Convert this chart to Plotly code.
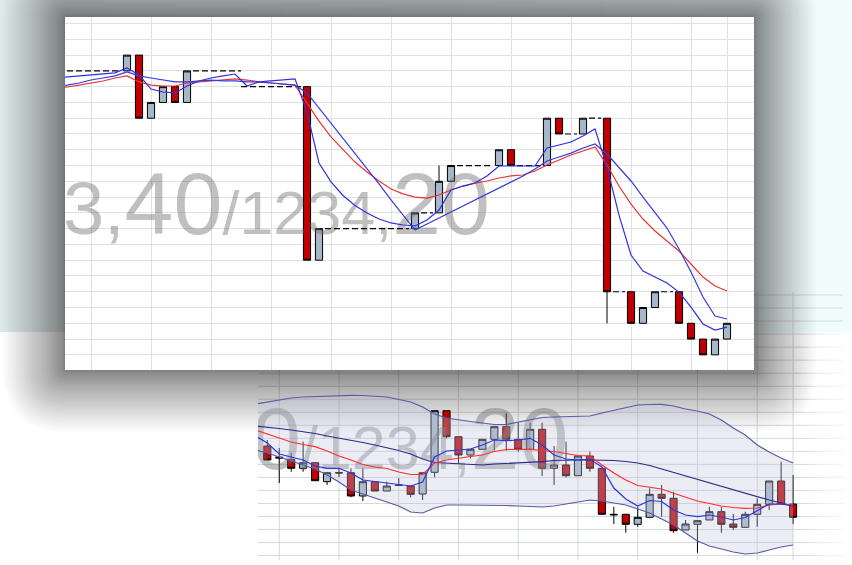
import plotly.graph_objects as go

W, H = 852, 565

# ---------------- main panel data ----------------
main_slots = [0, 1, 2, 3, 4, 5, 15, 16, 24, 26, 27, 31, 32, 35, 36, 38, 40, 42, 43, 44, 46, 47, 48, 49, 50]
main_open = [39, 40, 36, 37, 38, 37, 38, 27, 29, 30, 32, 33, 34, 33, 36, 35, 36, 25, 23, 24, 25, 23, 22, 21, 22]
main_close = [40, 36, 37, 38, 37, 39, 27, 29, 30, 32, 33, 34, 33, 36, 35, 36, 25, 23, 24, 25, 23, 22, 21, 22, 23]
main_high = [40, 40, 37, 38, 38, 39, 38, 29, 30, 33, 33, 34, 34, 36, 36, 36, 36, 25, 24, 25, 25, 23, 22, 22, 23]
main_low = [39, 36, 36, 37, 37, 37, 27, 27, 29, 30, 32, 33, 33, 33, 35, 35, 23, 23, 23, 24, 23, 22, 21, 21, 22]

gap_slots = [-6, -5, -4, -3, -2, -1, 6, 7, 8, 9, 10, 11, 12, 13, 14, 17, 18, 19, 20, 21, 22, 23,
             25, 28, 29, 30, 33, 34, 37, 39, 41, 45]
gap_levels = [39, 39, 39, 39, 39, 39, 39, 39, 39, 39, 38, 38, 38, 38, 38, 29, 29, 29, 29, 29, 29, 29,
              30, 33, 33, 33, 33, 33, 35, 36, 25, 25]

ma_slots = list(range(-6, 51))
ma_red = [37.91, 37.98, 38.10, 38.23, 38.36, 38.55,
          38.68, 38.30, 38.10, 38.04, 38.04, 38.23, 38.30, 38.36, 38.42, 38.49, 38.42, 38.30, 38.23, 38.17, 38.10,
          36.96, 35.82, 34.81, 33.98, 33.22, 32.59, 32.02, 31.51, 31.20, 31.00,
          30.94, 31.13, 31.45, 31.70, 31.89, 32.02, 32.21, 32.34, 32.40, 32.65,
          33.03, 33.35, 33.67, 33.92, 34.18, 33.03, 31.70, 30.56, 29.61, 28.85,
          28.22, 27.58, 26.76, 25.93, 25.36, 25.05]
ma_fast = [38.55, 38.61, 38.68, 38.74, 38.80, 38.87,
           39.18, 38.74, 37.85, 37.66, 37.60, 38.04, 38.36, 38.55, 38.68, 38.80, 38.04, 38.30, 38.36, 38.42, 38.49,
           36.39, 33.16, 31.96, 31.10, 30.47, 29.99, 29.61, 29.36, 29.23, 29.17,
           29.55, 30.18, 31.45, 31.70, 31.89, 32.34, 32.97, 32.97, 32.97, 32.97,
           34.11, 34.30, 34.49, 34.87, 35.32, 32.91, 29.86, 27.33, 26.31, 25.93,
           25.55, 24.98, 24.03, 22.96, 22.57, 22.76]
ma_slow = [38.04, 38.10, 38.23, 38.42, 38.55, 38.68,
           38.93, 38.68, 38.55, 38.42, 38.30, 38.30, 38.36, 38.42, 38.36, 38.36, 38.30, 38.30, 38.23, 38.17, 38.10,
           37.60, 36.65, 35.70, 34.68, 33.73, 32.78, 31.83, 30.82, 29.86, 28.91,
           29.29, 29.67, 30.05, 30.44, 30.82, 31.20, 31.58, 31.96, 32.34, 32.78,
           33.29, 33.54, 33.79, 34.11, 34.37, 33.73, 32.91, 32.02, 31.00, 30.05,
           29.04, 27.71, 26.25, 24.67, 23.46, 23.27]

# ---------------- lower panel data ----------------
bot_slots = list(range(0, 45))
bot_open = [77, 71.5, 70.35, 65.85, 68.65, 59.15, 63.65, 63.65, 52, 59.15, 54.5, 57.5, 57, 53, 63.85,
            94.65, 81.65, 72.5, 75.35, 80.35, 86.65, 80.35, 75.35, 85.35, 65.85, 67.5, 62.15, 72, 65.85,
            42.85, 42.85, 37.85, 41.35, 52.85, 50.85, 35, 37.85, 40, 44.15, 38, 36.35, 42.85, 47.85, 59.5, 48]
bot_close = [70, 71, 65.85, 68.65, 59.65, 63.65, 63.5, 52, 59.15, 54.5, 57, 57.25, 52.85, 63.65, 94.65,
             81.65, 72.5, 75.35, 80.35, 86.65, 80.35, 75.35, 85.35, 65.85, 67.5, 62.15, 72, 65.85, 42.85,
             42.6, 37.85, 41.35, 52.85, 50.85, 34.65, 38, 39.65, 44.15, 37.85, 36.35, 42.85, 47.85, 59.5, 48, 41.35]
bot_high = [80, 76, 73.65, 79.15, 68.65, 63.65, 66, 65.85, 65.85, 59.15, 59.15, 60.85, 57, 63.65, 94.65,
            94.65, 81.65, 75.35, 80.35, 86.65, 93.35, 88.65, 88.65, 88.65, 77, 79.15, 72, 74.15, 65.85,
            46.65, 42.85, 46.65, 55.85, 57.5, 54.15, 40, 39.65, 46.65, 46.65, 43, 44.15, 50.85, 59.5, 69.15, 62.5]
bot_low = [70, 58.5, 64.15, 64.15, 59.65, 57.5, 61.5, 51.35, 49.5, 54.5, 54.5, 57, 51.35, 50, 61.35,
           80.85, 68, 70.85, 75.35, 74.65, 74.65, 74.15, 75.35, 62, 57.5, 61.35, 62.15, 64.15, 42.85,
           38, 33.65, 36.65, 41.35, 41.65, 33.65, 35, 23.65, 40, 33.65, 35, 36.35, 36.65, 45, 48, 38]

band_slots = list(range(-1, 45))
band_upper = [98, 99, 100.25, 101, 101.5, 101.75, 102, 102.25, 102.35, 102.25, 101.75,
              101.5, 100.25, 99, 96.5, 93, 91, 90, 89.25, 88.5, 87.75,
              87.75, 89, 90.25, 91.25, 91.5, 91.65, 91.75, 92, 93.5, 94.75,
              96, 97.5, 97.75, 97.85, 97, 95.5, 94.5, 93, 90, 86,
              82.5, 77.5, 74, 71, 68.5]
band_lower = [75, 73.5, 71.5, 69.5, 67.5, 65.5, 62.5, 59, 55, 53, 51,
              49, 47, 44, 43.5, 46, 47.5, 47.5, 47.5, 47.5, 47.5,
              47.25, 47, 46.75, 46.5, 47, 48, 49, 50, 49.5, 48.5,
              47.5, 45.5, 43.5, 40.5, 37.5, 33.5, 29.5, 27, 25.5, 24,
              23, 23.5, 25, 26.5, 27.5]
band_mid = [87, 86.5, 85.75, 85, 84.25, 83.25, 82, 81, 80, 78.75, 77.5,
            76.25, 74.75, 73, 70.5, 68.75, 68.35, 68, 67.75, 67.5, 68,
            68.25, 68.5, 68.75, 69.15, 69.75, 70, 70, 70, 70, 69.75,
            69.25, 68.5, 67.25, 65.5, 64, 62.25, 60.5, 58.5, 56.75, 55,
            53.25, 51.5, 50, 48.5, 47]
bot_red = [85, 83, 80.75, 79, 77.75, 76.65, 74.5, 72, 70, 67.75, 66.5,
           65.75, 64, 62.75, 62.75, 68.5, 70, 71, 71.75, 72.5, 74.25,
           75.25, 75.35, 75.35, 74.75, 74.25, 73.25, 72.25, 72, 67.5, 63.5,
           60, 57.25, 56.25, 55.5, 53.35, 51.25, 49.5, 48.25, 47, 46.25,
           45.85, 46, 47.5, 48, 47.5]
bot_fast = [82, 78.5, 73, 71.5, 70, 67, 65.85, 65.85, 63.5, 60, 59.25,
            58.75, 57.75, 57, 59, 71.5, 74.5, 74.85, 75.5, 77.5, 80,
            79.65, 80, 80.85, 77.5, 72.5, 70.5, 70, 70.35, 66.5, 56,
            50.5, 47, 49.75, 49.25, 45, 42.5, 41.65, 42.5, 41.5, 40,
            41.25, 44.5, 48, 48, 47]

watermark = ('<span style="font-size:74px">1233,</span><span style="font-size:88px">40</span>'
             '/1234,<span style="font-size:88px">20</span>')

# ---------------- helpers (layout positions) ----------------
def px(x):
    return x / W


def py(y):
    return 1 - y / H


def rrect_path(x0, y0, x1, y1, r):
    return (f"M {px(x0 + r)},{py(y0)} L {px(x1 - r)},{py(y0)} Q {px(x1)},{py(y0)} {px(x1)},{py(y0 + r)} "
            f"L {px(x1)},{py(y1 - r)} Q {px(x1)},{py(y1)} {px(x1 - r)},{py(y1)} "
            f"L {px(x0 + r)},{py(y1)} Q {px(x0)},{py(y1)} {px(x0)},{py(y1 - r)} "
            f"L {px(x0)},{py(y0 + r)} Q {px(x0)},{py(y0)} {px(x0 + r)},{py(y0)} Z")


RED = '#c00000'
GRAY = '#a7b7ca'
WM_COLOR = 'rgba(105,105,105,0.42)'

fig = go.Figure()

# main watermark
fig.add_trace(go.Scatter(x=[30.25], y=[29.6], mode='text', text=[watermark], textposition='middle left',
                         textfont=dict(family='Liberation Sans, Arial', size=61, color=WM_COLOR),
                         hoverinfo='skip', cliponaxis=True, xaxis='x', yaxis='y'))

# dashed flat segments
dx, dy = [], []
prev = None
for s, L in zip(gap_slots, gap_levels):
    if prev is not None and s == prev[0] + 1 and L == prev[1]:
        dx[-1] = s + 0.5
    else:
        if dx:
            dx.append(None)
            dy.append(None)
        dx += [s - 0.5, s + 0.5]
        dy += [L, L]
    prev = (s, L)
fig.add_trace(go.Scatter(x=dx, y=dy, mode='lines', line=dict(color='black', width=1.2, dash='6px,3px'),
                         hoverinfo='skip', xaxis='x', yaxis='y'))

fig.add_trace(go.Candlestick(x=main_slots, open=main_open, high=main_high, low=main_low, close=main_close,
                             increasing=dict(fillcolor=GRAY, line=dict(color='black', width=1)),
                             decreasing=dict(fillcolor=RED, line=dict(color='black', width=1)),
                             whiskerwidth=0, hoverinfo='skip', xaxis='x', yaxis='y'))

fig.add_trace(go.Scatter(x=ma_slots, y=ma_red, mode='lines', line=dict(color='#e83535', width=1.2),
                         hoverinfo='skip', xaxis='x', yaxis='y'))
fig.add_trace(go.Scatter(x=ma_slots, y=ma_slow, mode='lines', line=dict(color='#3a3ad8', width=1.2),
                         hoverinfo='skip', xaxis='x', yaxis='y'))
fig.add_trace(go.Scatter(x=ma_slots, y=ma_fast, mode='lines', line=dict(color='#3030e0', width=1.2),
                         hoverinfo='skip', xaxis='x', yaxis='y'))

# lower panel
fig.add_trace(go.Scatter(x=[25.2], y=[73], mode='text', text=[watermark], textposition='middle left',
                         textfont=dict(family='Liberation Sans, Arial', size=61, color=WM_COLOR),
                         hoverinfo='skip', cliponaxis=True, xaxis='x2', yaxis='y2'))
fig.add_trace(go.Scatter(x=band_slots, y=band_upper, mode='lines', line=dict(color='#5a5aa6', width=1.2),
                         hoverinfo='skip', xaxis='x2', yaxis='y2'))
fig.add_trace(go.Scatter(x=band_slots, y=band_lower, mode='lines', line=dict(color='#5a5aa6', width=1.2),
                         fill='tonexty', fillcolor='rgba(195,195,222,0.32)',
                         hoverinfo='skip', xaxis='x2', yaxis='y2'))
fig.add_trace(go.Candlestick(x=bot_slots, open=bot_open, high=bot_high, low=bot_low, close=bot_close,
                             increasing=dict(fillcolor=GRAY, line=dict(color='black', width=1)),
                             decreasing=dict(fillcolor=RED, line=dict(color='black', width=1)),
                             whiskerwidth=0, hoverinfo='skip', xaxis='x2', yaxis='y2'))
fig.add_trace(go.Scatter(x=band_slots, y=band_mid, mode='lines', line=dict(color='#2a2a8c', width=1.2),
                         hoverinfo='skip', xaxis='x2', yaxis='y2'))
fig.add_trace(go.Scatter(x=band_slots, y=bot_red, mode='lines', line=dict(color='#ff2e2e', width=1.2),
                         hoverinfo='skip', xaxis='x2', yaxis='y2'))
fig.add_trace(go.Scatter(x=band_slots, y=bot_fast, mode='lines', line=dict(color='#2838e0', width=1.2),
                         hoverinfo='skip', xaxis='x2', yaxis='y2'))

# ---------------- decorative shapes ----------------
shapes = []
NS = 24
for i in range(NS):
    t = i / (NS - 1)
    r = int(222 + 19 * t)
    g = int(234 + 19 * t)
    shapes.append(dict(type='rect', xref='paper', yref='paper', x0=px(i * W / NS), x1=px((i + 1) * W / NS + 1),
                       y0=py(332), y1=py(0), fillcolor=f'rgb({r},{g},{g})', line=dict(width=0), layer='below'))

# lower panel grid
for m in range(21):
    yv = 152.5 - 6.515 * m
    shapes.append(dict(type='line', xref='paper', yref='y2', x0=px(258), x1=px(843), y0=yv, y1=yv,
                       line=dict(color='#d3d8d8', width=1), layer='below'))
for k in [1, 6, 11, 16, 21, 26, 31, 36, 41, 44]:
    shapes.append(dict(type='line', xref='x2', yref='paper', x0=k, x1=k, y0=py(560), y1=py(292),
                       line=dict(color='#d3d8d8', width=1), layer='below'))
# right fade of lower panel
for i in range(8):
    shapes.append(dict(type='rect', xref='paper', yref='paper', x0=px(806 + 5 * i), x1=px(852),
                       y0=py(565), y1=py(332), fillcolor='rgba(255,255,255,0.18)', line=dict(width=0),
                       layer='below'))

# shadow of main panel
x0m, y0m, x1m, y1m = 65, 17, 754, 370
NSH = 44
for i in range(NSH + 1):
    d = 62 * (i / NSH) ** 1.8
    shapes.append(dict(type='path', xref='paper', yref='paper',
                       path=rrect_path(x0m - d, y0m - d, x1m + d, y1m + d, d + 2),
                       fillcolor='rgba(35,42,40,0.018)', line=dict(width=0), layer='below'))
shapes.append(dict(type='rect', xref='paper', yref='paper', x0=px(x0m), x1=px(x1m), y0=py(y1m), y1=py(y0m),
                   fillcolor='white', line=dict(width=0), layer='below'))

grid_main = '#dde2e2'
fig.update_layout(
    width=W, height=H, margin=dict(l=0, r=0, t=0, b=0),
    paper_bgcolor='white', plot_bgcolor='rgba(0,0,0,0)',
    showlegend=False, boxgap=0.15, shapes=shapes,
    xaxis=dict(domain=[px(65), px(754)], range=[-5.167, 52.25], showgrid=True, gridcolor=grid_main,
               tickvals=[-3, 2, 7, 12, 17, 22, 27, 32, 37, 42, 47, 50], showticklabels=False, ticks='',
               zeroline=False, showline=False, rangeslider=dict(visible=False), fixedrange=True),
    yaxis=dict(domain=[py(370), py(17)], range=[20.04, 42.415], showgrid=True, gridcolor=grid_main,
               dtick=1, tick0=0, showticklabels=False, ticks='', zeroline=False, showline=False, fixedrange=True),
    xaxis2=dict(domain=[px(258), px(843)], range=[-0.778, 48.18], anchor='y2', showgrid=False,
                showticklabels=False, ticks='', zeroline=False, showline=False,
                rangeslider=dict(visible=False), fixedrange=True),
    yaxis2=dict(domain=[py(560), py(292)], range=[20, 154], anchor='x2', showgrid=False,
                showticklabels=False, ticks='', zeroline=False, showline=False, fixedrange=True),
)

fig.write_html("out.html", config={'displayModeBar': False},
               post_script="document.body.style.margin='0px';document.body.style.overflow='hidden';")
